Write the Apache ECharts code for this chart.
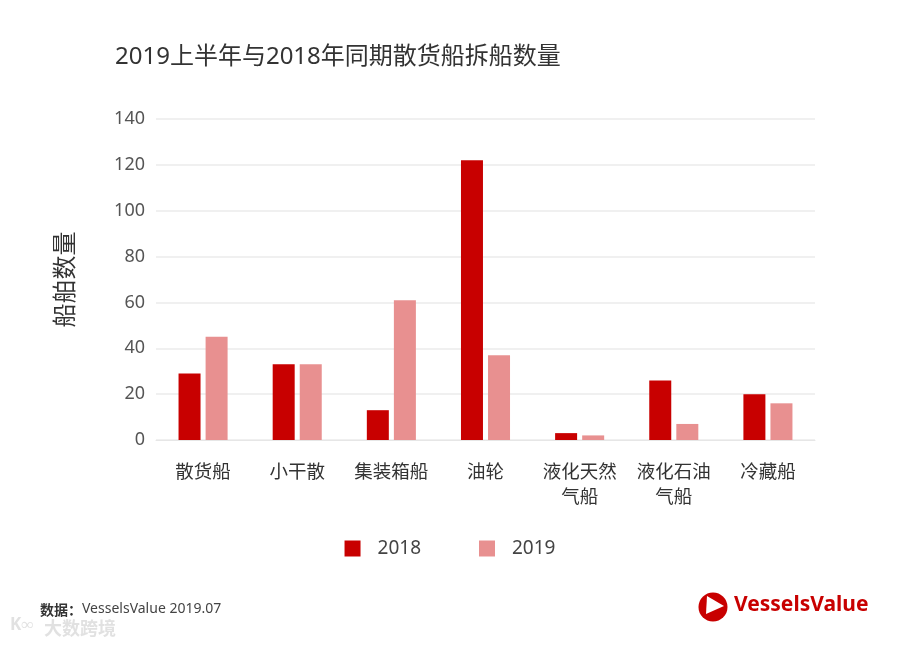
<!DOCTYPE html>
<html><head><meta charset="utf-8">
<script src="https://cdn.jsdelivr.net/npm/echarts@6/dist/echarts.min.js"></script>
<style>html,body{margin:0;padding:0;background:#fff}#c{width:900px;height:646px}</style>
</head><body><div id="c"></div>
<script>
const categories = ['散货船','小干散','集装箱船','油轮','液化天然\n气船','液化石油\n气船','冷藏船'];
const values2018 = [29, 33, 13, 122, 3, 26, 20];
const values2019 = [45, 33, 61, 37, 2, 7, 16];
const yTicks = [0, 20, 40, 60, 80, 100, 120, 140];

const FONT = "'Noto Sans', 'Noto Sans CJK SC', sans-serif";
const chart = echarts.init(document.getElementById('c'));
chart.setOption({
  backgroundColor: '#fff',
  textStyle: { fontFamily: FONT },
  title: {
    text: '2019上半年与2018年同期散货船拆船数量',
    left: 110, top: 40,
    textStyle: { fontSize: 24, fontWeight: 'normal', color: '#333', fontFamily: FONT }
  },
  grid: { left: 156, right: 85, top: 119, bottom: 206, containLabel: false },
  legend: {
    bottom: 83, left: 'center',
    itemWidth: 16, itemHeight: 16, itemGap: 58,
    icon: 'rect',
    textStyle: { fontSize: 19, color: '#444', padding: [0,0,0,12], fontFamily: FONT },
    data: ['2018', '2019']
  },
  xAxis: {
    type: 'category',
    data: categories,
    axisLine: { show: true, lineStyle: { color: '#e6e6e6' } },
    axisTick: { show: false },
    axisLabel: { interval: 0, fontSize: 18.5, color: '#333', margin: 20, lineHeight: 25, fontFamily: FONT }
  },
  yAxis: {
    type: 'value',
    min: yTicks[0], max: yTicks[yTicks.length-1], interval: 20,
    name: '船舶数量',
    nameLocation: 'middle',
    nameGap: 78,
    nameRotate: 90,
    nameTextStyle: { fontSize: 24, color: '#333', fontFamily: FONT },
    axisLine: { show: false },
    axisTick: { show: false },
    axisLabel: { fontSize: 18, color: '#555', margin: 11, fontFamily: FONT },
    splitLine: { lineStyle: { color: '#ebebeb', width: 1.5 } }
  },
  series: [
    { name: '2018', type: 'bar', data: values2018, barWidth: 22, barGap: '23%',
      itemStyle: { color: '#C80000' } },
    { name: '2019', type: 'bar', data: values2019, barWidth: 22,
      itemStyle: { color: '#E89090' } }
  ],
  graphic: [
    { type: 'text', left: 40, top: 603, style: { text: '数据：', font: "bold 14px 'Noto Sans CJK SC'", fill: '#333' } },
    { type: 'text', left: 82, top: 602, style: { text: 'VesselsValue 2019.07', font: "14px 'Noto Sans', 'Noto Sans CJK SC'", fill: '#444' } },
    { type: 'text', left: 10, top: 617, style: { text: 'K∞', font: "bold 17px 'Noto Sans'", fill: 'rgba(200,200,200,0.55)' } },
    { type: 'text', left: 44, top: 619, style: { text: '大数跨境', font: "bold 18px 'Noto Sans CJK SC'", fill: 'rgba(200,200,200,0.55)' } },
    { type: 'circle', shape: { cx: 713, cy: 607, r: 14.5 }, style: { fill: '#C80000' } },
    { type: 'polygon', shape: { points: [[707, 596], [724, 606], [706, 614]] }, style: { fill: '#fff' } },
    { type: 'text', left: 734, top: 595, style: { text: 'VesselsValue', font: "bold 21px 'Noto Sans'", fill: '#C80000' } }
  ]
});
</script></body></html>
